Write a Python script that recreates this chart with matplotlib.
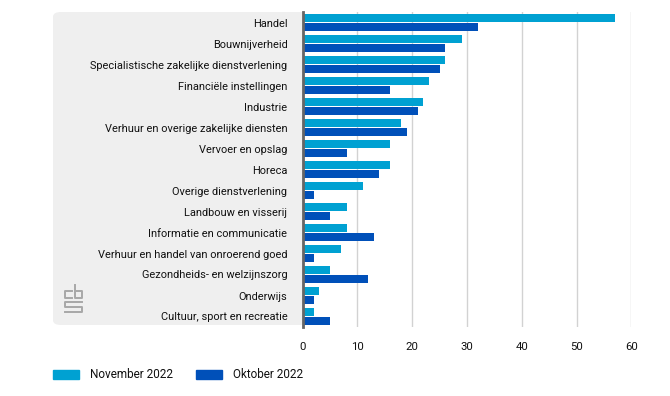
import numpy as np
import matplotlib.pyplot as plt
from matplotlib.patches import FancyBboxPatch, Patch
from matplotlib.lines import Line2D
from matplotlib.transforms import Affine2D

plt.rcParams['font.family'] = ['Roboto', 'DejaVu Sans']

categories = ['Handel', 'Bouwnijverheid', 'Specialistische zakelijke dienstverlening',
              'Financiële instellingen', 'Industrie', 'Verhuur en overige zakelijke diensten',
              'Vervoer en opslag', 'Horeca', 'Overige dienstverlening', 'Landbouw en visserij',
              'Informatie en communicatie', 'Verhuur en handel van onroerend goed',
              'Gezondheids- en welzijnszorg', 'Onderwijs', 'Cultuur, sport en recreatie']
nov_2022 = [57, 29, 26, 23, 22, 18, 16, 16, 11, 8, 8, 7, 5, 3, 2]
okt_2022 = [32, 26, 25, 16, 21, 19, 8, 14, 2, 5, 13, 2, 12, 2, 5]
xticks = [0, 10, 20, 30, 40, 50, 60]

c_nov = '#00a1d2'
c_okt = '#0050b9'

W, H = 670, 396
fig = plt.figure(figsize=(W / 100, H / 100), dpi=100)
ax = fig.add_axes([302.7 / W, 1 - 327 / H, 328.6 / W, 315 / H])

# gray panel behind the labels
panel = FancyBboxPatch((53 / W, 1 - 325 / H), 260 / W, 313 / H,
                       boxstyle='round,pad=0,rounding_size=0.012',
                       transform=fig.transFigure, facecolor='#efefef',
                       edgecolor='none', zorder=-1)
fig.patches.append(panel)

y = np.arange(len(categories))
h = 0.39
ax.barh(y - 0.205, nov_2022, height=h, color=c_nov, zorder=3)
ax.barh(y + 0.205, okt_2022, height=h, color=c_okt, zorder=3)

ax.set_ylim(len(categories) - 0.5, -0.5)
ax.set_xlim(0, 60)
ax.set_xticks(xticks)
ax.set_yticks(y)
ax.set_yticklabels(categories, fontsize=7.9, color='#111111')
ax.tick_params(axis='y', length=0, pad=11)
ax.tick_params(axis='x', length=0, pad=11, labelsize=8.2, labelcolor='#111111')
ax.grid(axis='x', color='#d2d2d2', lw=1, zorder=0)
for s in ['top', 'right', 'bottom']:
    ax.spines[s].set_visible(False)
ax.spines['left'].set_color('#666666')
ax.spines['left'].set_linewidth(2)
ax.spines['left'].set_zorder(4)

# cbs logo (rough)
tr = Affine2D().scale(1 / W, -1 / H).translate(0, 1) + fig.transFigure
logo = [
    [(72, 291), (65, 291), (65, 298), (72, 298)],
    [(75, 285), (75, 298), (82, 298), (82, 291), (75, 291)],
    [(82, 302), (65, 302), (65, 307), (82, 307), (82, 312), (65, 312)],
]
for pts in logo:
    xs, ys = zip(*pts)
    fig.lines.append(Line2D(xs, ys, transform=tr, color='#a8a8a8', lw=1.4))

handles = [Patch(color=c_nov), Patch(color=c_okt)]
fig.legend(handles, ['November 2022', 'Oktober 2022'], loc='center left',
           bbox_to_anchor=(53 / W, 1 - 375 / H), ncol=2, frameon=False,
           fontsize=8.5, handlelength=2.2, handleheight=0.85, handletextpad=0.9,
           columnspacing=2.0, borderpad=0, borderaxespad=0, labelcolor='#111111')

fig.savefig('out.png', dpi=100)
